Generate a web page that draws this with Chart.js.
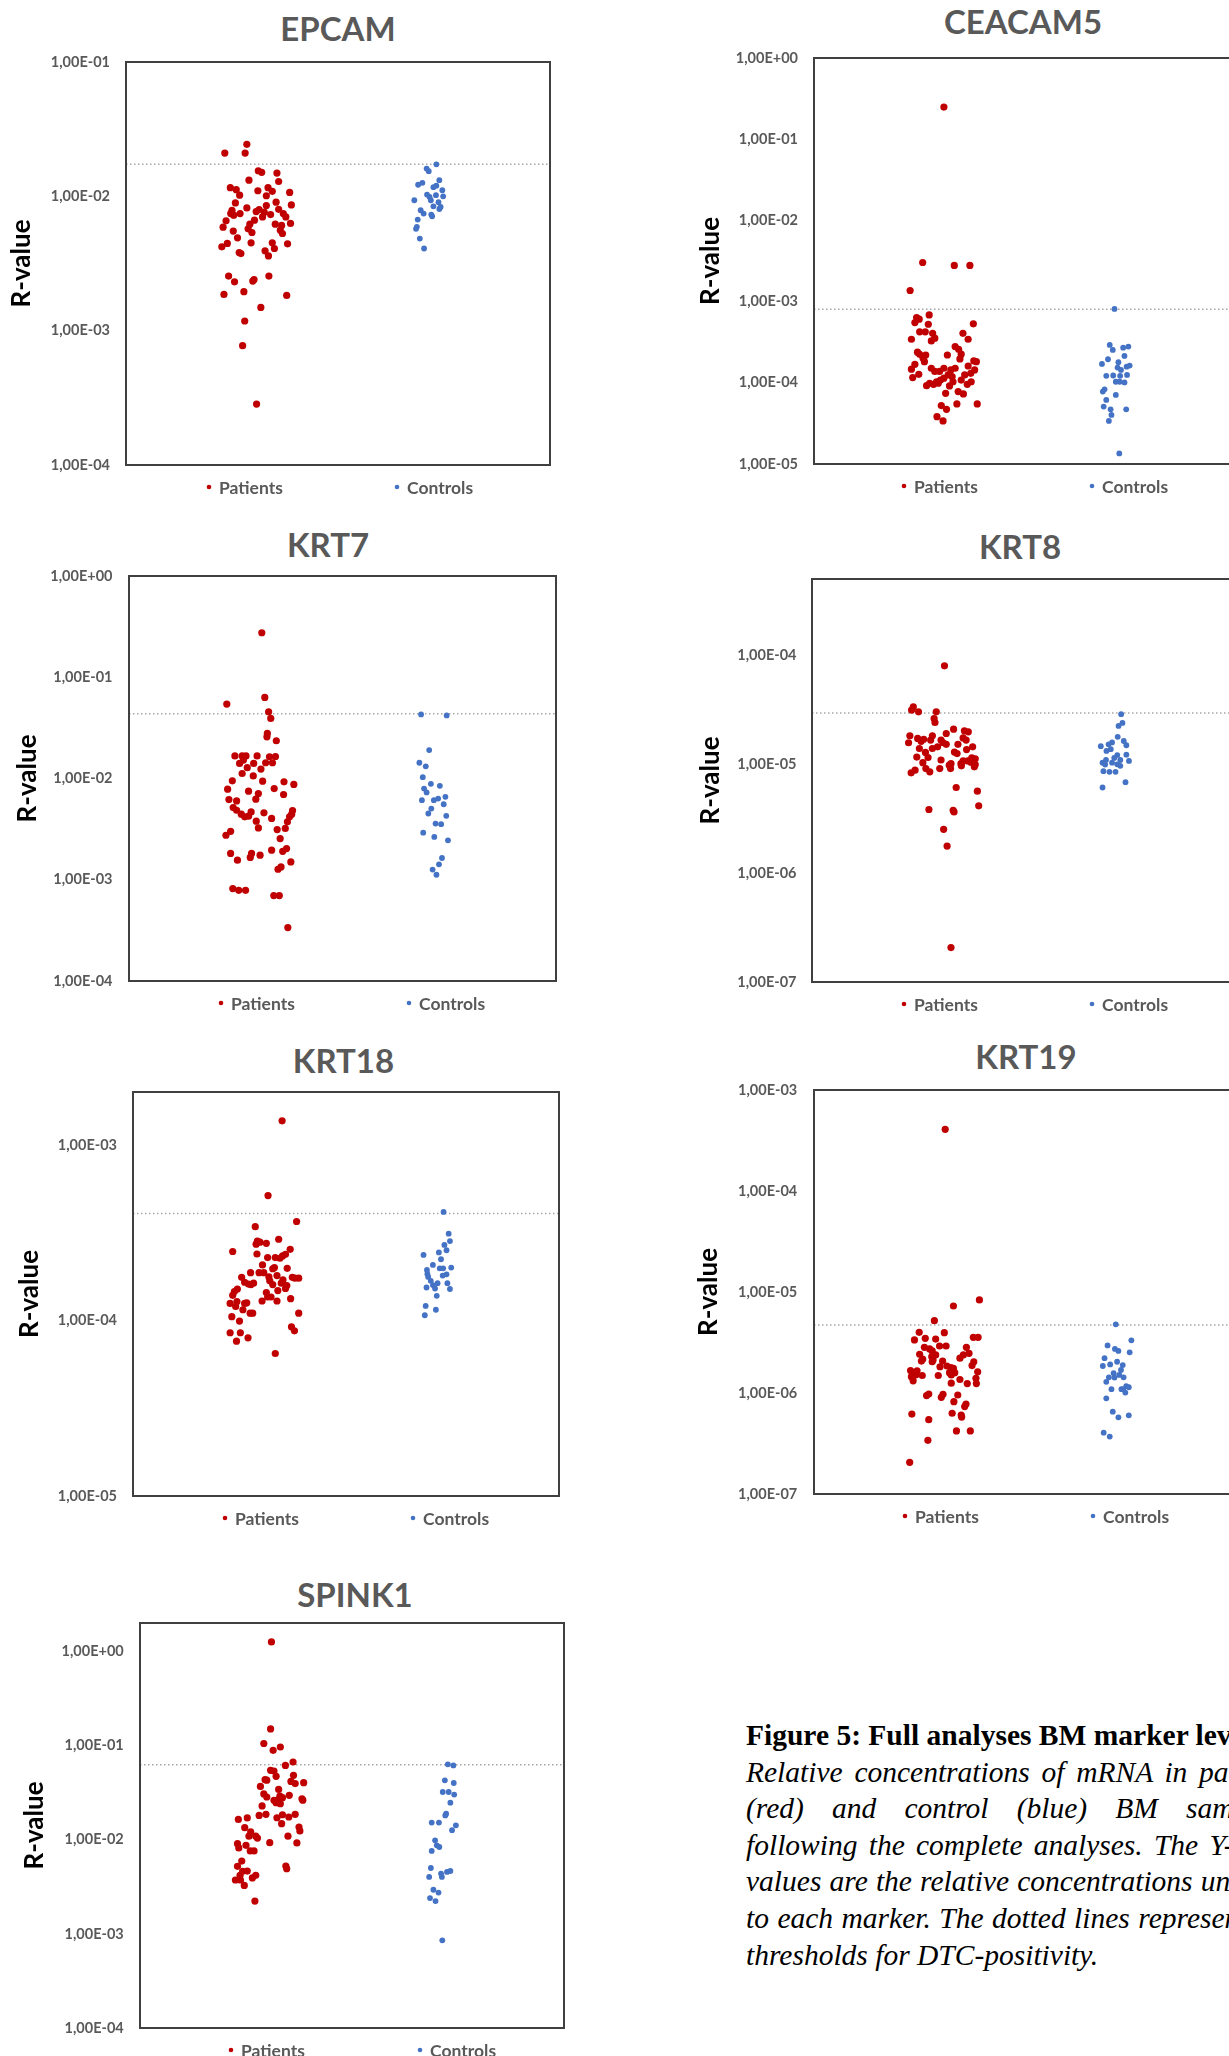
<!DOCTYPE html>
<html>
<head>
<meta charset="utf-8">
<title>Figure 5: Full analyses BM marker levels</title>
<script src="https://cdn.jsdelivr.net/npm/chart.js@4.4.0/dist/chart.umd.min.js"></script>
<style>
  html, body { margin: 0; padding: 0; background: #fff; overflow: hidden; }
  body { position: relative; width: 1229px; height: 2056px; }
  canvas.panel { position: absolute; }
  .ptitle { position: absolute; width: 400px; text-align: center; font: bold 33px/40px Lato, sans-serif; color: #595959; }
  .caption { position: absolute; left: 746px; top: 1717px; width: 535px; font-family: "Liberation Serif", "Times New Roman", serif; font-size: 29.5px; line-height: 36.6px; color: #000; }
  .caption div { white-space: nowrap; }
  .caption .head { font-weight: bold; }
  .caption .j { font-style: italic; text-align: justify; text-align-last: justify; white-space: normal; }
  .caption .wide { width: 546px; }
  .caption .last { font-style: italic; }
</style>
</head>
<body>

<div class="caption">
  <div class="head">Figure 5: Full analyses BM marker levels</div>
  <div class="j">Relative concentrations of mRNA in patient</div>
  <div class="j">(red) and control (blue) BM samples</div>
  <div class="j">following the complete analyses. The Y-axis</div>
  <div class="j">values are the relative concentrations unique</div>
  <div class="j wide">to each marker. The dotted lines represent the</div>
  <div class="last">thresholds for DTC-positivity.</div>
</div>

<script>
// values: [jitter position, R-value]
// x: patients around 3, controls around 7 (0..10 across the plot)
const epcamPatients = [[2.85,2.44e-2],[2.33,2.10e-2],[2.81,2.10e-2],[3.12,1.55e-2],[3.20,1.51e-2],[3.56,1.49e-2],[2.90,1.32e-2],[3.60,1.29e-2],[2.46,1.16e-2],[2.60,1.12e-2],[3.11,1.10e-2],[3.35,1.16e-2],[3.45,1.09e-2],[2.68,1.02e-2],[3.31,1.01e-2],[3.86,1.07e-2],[2.58,8.93e-3],[3.54,9.04e-3],[3.90,8.63e-3],[3.31,8.53e-3],[2.85,8.20e-3],[2.50,7.88e-3],[2.47,7.44e-3],[2.54,7.24e-3],[2.69,7.44e-3],[3.14,7.97e-3],[3.07,7.70e-3],[3.26,7.62e-3],[3.22,7.03e-3],[3.41,7.31e-3],[3.60,8.01e-3],[3.71,7.44e-3],[3.77,7.03e-3],[2.36,6.57e-3],[3.03,6.64e-3],[2.92,6.21e-3],[3.52,6.21e-3],[3.67,6.07e-3],[2.29,5.89e-3],[2.88,5.73e-3],[2.97,5.38e-3],[2.53,5.51e-3],[3.64,5.60e-3],[3.88,6.28e-3],[3.69,5.29e-3],[2.63,4.91e-3],[2.39,4.46e-3],[2.26,4.21e-3],[2.95,4.51e-3],[3.45,4.51e-3],[3.50,4.09e-3],[3.81,4.43e-3],[2.67,3.82e-3],[2.71,3.75e-3],[3.28,3.93e-3],[3.36,3.60e-3],[2.42,2.55e-3],[2.56,2.31e-3],[3.02,2.40e-3],[2.99,2.34e-3],[3.37,2.55e-3],[2.31,1.86e-3],[2.78,1.95e-3],[3.79,1.83e-3],[3.18,1.49e-3],[2.80,1.18e-3],[2.75,7.73e-4],[3.08,2.84e-4]];
const epcamControls = [[7.32,1.73e-2],[7.09,1.61e-2],[7.14,1.54e-2],[7.39,1.32e-2],[6.99,1.26e-2],[6.89,1.22e-2],[7.32,1.20e-2],[7.25,1.17e-2],[7.46,1.11e-2],[7.10,1.03e-2],[7.31,1.02e-2],[7.16,9.90e-3],[7.48,1.00e-2],[6.80,9.35e-3],[7.19,9.35e-3],[7.37,9.04e-3],[7.25,8.43e-3],[7.42,8.34e-3],[7.39,8.05e-3],[6.95,7.88e-3],[7.02,7.44e-3],[7.20,7.31e-3],[7.22,7.11e-3],[6.88,6.71e-3],[6.86,5.93e-3],[6.84,5.73e-3],[6.93,4.85e-3],[7.03,4.09e-3]];
const epcamTicks = ['1,00E-04','1,00E-03','1,00E-02','1,00E-01'];

const ceacam5Patients = [[3.00,2.49e-1],[2.51,3.03e-3],[3.24,2.79e-3],[3.60,2.79e-3],[2.22,1.37e-3],[2.66,6.86e-4],[2.37,6.37e-4],[2.43,6.07e-4],[2.33,5.52e-4],[2.64,5.26e-4],[3.68,5.32e-4],[2.44,4.24e-4],[2.57,4.24e-4],[2.74,4.07e-4],[3.44,4.07e-4],[2.79,3.54e-4],[2.71,3.28e-4],[2.25,3.44e-4],[3.56,3.44e-4],[3.26,2.79e-4],[3.34,2.59e-4],[2.39,2.38e-4],[3.08,2.20e-4],[2.44,2.24e-4],[2.58,2.20e-4],[2.52,2.00e-4],[3.40,2.25e-4],[3.37,1.97e-4],[2.55,1.82e-4],[3.69,1.86e-4],[3.75,1.82e-4],[2.33,1.69e-4],[3.56,1.61e-4],[2.25,1.47e-4],[2.71,1.51e-4],[3.00,1.51e-4],[3.26,1.51e-4],[3.16,1.44e-4],[2.79,1.38e-4],[2.90,1.38e-4],[3.71,1.44e-4],[2.42,1.27e-4],[3.10,1.25e-4],[3.48,1.25e-4],[3.19,1.19e-4],[3.62,1.31e-4],[2.28,1.16e-4],[3.00,1.14e-4],[3.40,1.08e-4],[2.92,1.08e-4],[2.83,1.03e-4],[3.21,1.03e-4],[2.67,9.87e-5],[3.63,1.03e-4],[2.60,9.23e-5],[3.13,9.14e-5],[3.54,9.59e-5],[2.76,9.59e-5],[2.87,9.87e-5],[3.33,7.80e-5],[3.04,7.43e-5],[3.45,7.30e-5],[2.94,5.24e-5],[3.30,5.50e-5],[3.77,5.50e-5],[3.06,4.72e-5],[2.84,3.83e-5],[2.98,3.39e-5]];
const ceacam5Controls = [[6.94,8.13e-4],[6.83,2.93e-4],[7.26,2.79e-4],[7.14,2.71e-4],[6.90,2.54e-4],[7.17,2.14e-4],[6.79,1.95e-4],[7.03,1.79e-4],[6.65,1.71e-4],[7.29,1.63e-4],[7.22,1.58e-4],[7.01,1.54e-4],[7.09,1.44e-4],[6.75,1.22e-4],[6.91,1.23e-4],[7.07,1.22e-4],[7.23,1.25e-4],[6.97,1.03e-4],[7.06,1.03e-4],[7.17,1.01e-4],[6.71,8.32e-5],[6.67,7.80e-5],[6.97,7.09e-5],[6.75,6.15e-5],[6.69,5.09e-5],[6.85,4.72e-5],[7.21,4.72e-5],[6.87,4.02e-5],[6.81,3.39e-5],[7.05,1.35e-5]];
const ceacam5Ticks = ['1,00E-05','1,00E-04','1,00E-03','1,00E-02','1,00E-01','1,00E+00'];

const krt7Patients = [[3.11,2.75e-1],[3.18,6.32e-2],[2.29,5.43e-2],[3.27,4.56e-2],[3.32,3.92e-2],[3.24,2.79e-2],[3.23,2.58e-2],[3.45,2.36e-2],[2.48,1.67e-2],[2.65,1.67e-2],[2.74,1.67e-2],[3.00,1.67e-2],[3.29,1.64e-2],[3.43,1.65e-2],[2.68,1.52e-2],[2.59,1.41e-2],[2.92,1.41e-2],[3.20,1.43e-2],[3.36,1.43e-2],[2.77,1.28e-2],[3.09,1.24e-2],[2.65,1.12e-2],[2.91,1.06e-2],[2.42,9.48e-3],[3.13,9.42e-3],[3.63,9.27e-3],[3.86,8.73e-3],[2.31,7.85e-3],[3.40,7.96e-3],[2.80,7.50e-3],[3.03,7.11e-3],[3.62,6.95e-3],[2.34,6.19e-3],[2.52,6.01e-3],[2.97,6.25e-3],[2.44,5.16e-3],[2.52,4.86e-3],[2.86,4.68e-3],[3.16,4.58e-3],[3.83,4.83e-3],[2.63,4.44e-3],[2.80,4.25e-3],[2.71,4.18e-3],[3.81,4.44e-3],[3.76,4.18e-3],[3.34,4.03e-3],[2.98,3.79e-3],[3.71,3.73e-3],[3.03,3.25e-3],[3.66,3.21e-3],[3.47,3.13e-3],[2.38,3.01e-3],[2.27,2.75e-3],[3.54,2.55e-3],[3.34,1.96e-3],[3.69,2.03e-3],[3.60,1.91e-3],[2.38,1.82e-3],[2.87,1.82e-3],[2.84,1.66e-3],[3.07,1.75e-3],[2.54,1.56e-3],[3.79,1.50e-3],[3.56,1.34e-3],[3.49,1.27e-3],[2.43,8.18e-4],[2.57,7.87e-4],[2.73,7.87e-4],[3.39,6.97e-4],[3.52,6.97e-4],[3.72,3.37e-4]];
const krt7Controls = [[6.84,4.29e-2],[7.44,4.20e-2],[7.03,1.91e-2],[6.80,1.43e-2],[6.95,1.32e-2],[6.88,1.03e-2],[7.07,8.85e-3],[7.28,8.47e-3],[6.91,7.96e-3],[6.97,7.28e-3],[7.41,6.59e-3],[6.86,6.11e-3],[7.14,6.11e-3],[7.24,6.34e-3],[7.37,5.57e-3],[7.08,5.05e-3],[7.01,4.51e-3],[7.43,4.28e-3],[7.18,3.59e-3],[7.31,3.54e-3],[6.89,2.92e-3],[7.15,2.65e-3],[7.47,2.45e-3],[7.33,1.64e-3],[7.26,1.42e-3],[7.11,1.26e-3],[7.20,1.12e-3]];
const krt7Ticks = ['1,00E-04','1,00E-03','1,00E-02','1,00E-01','1,00E+00'];

const krt8Patients = [[3.06,7.98e-5],[2.34,3.36e-5],[2.30,3.13e-5],[2.46,3.02e-5],[2.87,3.02e-5],[2.82,2.62e-5],[2.84,2.41e-5],[3.27,2.09e-5],[3.52,2.02e-5],[3.61,1.98e-5],[3.10,1.91e-5],[2.26,1.82e-5],[2.78,1.82e-5],[2.44,1.72e-5],[2.58,1.69e-5],[2.52,1.62e-5],[2.74,1.66e-5],[3.49,1.74e-5],[2.98,1.66e-5],[2.23,1.57e-5],[3.03,1.57e-5],[3.10,1.52e-5],[3.37,1.52e-5],[3.56,1.66e-5],[2.48,1.39e-5],[2.90,1.44e-5],[2.78,1.39e-5],[3.71,1.44e-5],[3.57,1.36e-5],[2.62,1.28e-5],[3.29,1.29e-5],[3.35,1.25e-5],[2.42,1.16e-5],[2.68,1.15e-5],[3.69,1.14e-5],[3.77,1.12e-5],[2.98,1.09e-5],[3.49,1.07e-5],[3.60,1.07e-5],[2.56,1.03e-5],[3.21,1.01e-5],[3.44,1.01e-5],[3.67,1.04e-5],[3.77,9.90e-6],[3.17,9.77e-6],[3.45,9.64e-6],[3.75,9.44e-6],[2.63,9.10e-6],[2.95,9.10e-6],[3.20,9.10e-6],[2.38,8.79e-6],[2.72,8.49e-6],[2.29,8.31e-6],[3.33,6.10e-6],[3.82,5.64e-6],[3.85,4.14e-6],[2.70,3.83e-6],[3.26,3.77e-6],[3.28,3.64e-6],[3.04,2.52e-6],[3.12,1.77e-6],[3.21,2.07e-7]];
const krt8Controls = [[7.14,2.87e-5],[7.17,2.39e-5],[7.08,2.24e-5],[7.06,1.78e-5],[7.20,1.63e-5],[6.93,1.58e-5],[6.85,1.52e-5],[6.67,1.46e-5],[7.26,1.49e-5],[6.90,1.37e-5],[6.80,1.32e-5],[7.26,1.22e-5],[7.05,1.21e-5],[6.98,1.14e-5],[7.12,1.09e-5],[6.79,1.09e-5],[7.32,1.07e-5],[6.71,1.03e-5],[6.93,1.03e-5],[6.77,9.90e-6],[7.05,9.95e-6],[7.12,9.64e-6],[6.73,8.61e-6],[6.87,8.49e-6],[7.01,8.49e-6],[7.24,6.82e-6],[6.71,6.10e-6]];
const krt8Ticks = ['1,00E-07','1,00E-06','1,00E-05','1,00E-04'];

const krt18Patients = [[3.50,1.37e-3],[3.17,5.14e-4],[3.84,3.66e-4],[2.87,3.42e-4],[3.42,2.90e-4],[2.92,2.83e-4],[2.98,2.79e-4],[3.13,2.75e-4],[2.89,2.72e-4],[3.69,2.54e-4],[2.34,2.47e-4],[2.91,2.39e-4],[3.58,2.38e-4],[3.51,2.33e-4],[3.16,2.28e-4],[3.34,2.28e-4],[3.45,2.26e-4],[3.04,2.07e-4],[3.32,2.00e-4],[3.62,1.98e-4],[3.28,1.97e-4],[2.76,1.87e-4],[2.96,1.87e-4],[3.07,1.87e-4],[2.55,1.76e-4],[3.38,1.80e-4],[3.19,1.77e-4],[3.74,1.76e-4],[3.89,1.74e-4],[3.80,1.74e-4],[3.21,1.68e-4],[3.52,1.70e-4],[2.62,1.65e-4],[2.71,1.61e-4],[2.83,1.63e-4],[2.77,1.60e-4],[3.28,1.60e-4],[3.48,1.63e-4],[3.61,1.58e-4],[3.58,1.52e-4],[2.45,1.51e-4],[2.38,1.46e-4],[2.34,1.39e-4],[3.13,1.44e-4],[3.24,1.36e-4],[3.16,1.36e-4],[3.40,1.48e-4],[3.70,1.33e-4],[3.03,1.29e-4],[3.38,1.29e-4],[2.44,1.28e-4],[2.28,1.25e-4],[2.62,1.25e-4],[2.67,1.26e-4],[2.41,1.20e-4],[2.58,1.15e-4],[2.75,1.10e-4],[2.81,1.10e-4],[3.89,1.10e-4],[2.32,1.05e-4],[2.50,9.91e-5],[3.72,9.20e-5],[3.79,8.73e-5],[2.28,8.51e-5],[2.52,8.51e-5],[2.70,7.96e-5],[2.43,7.62e-5],[3.34,6.48e-5]];
const krt18Controls = [[7.29,4.15e-4],[7.41,3.12e-4],[7.44,2.83e-4],[7.31,2.69e-4],[7.36,2.51e-4],[7.18,2.44e-4],[6.82,2.36e-4],[7.23,2.23e-4],[7.04,2.07e-4],[7.47,2.00e-4],[7.20,1.98e-4],[7.28,1.98e-4],[6.90,1.94e-4],[6.91,1.84e-4],[7.36,1.83e-4],[7.27,1.80e-4],[6.93,1.77e-4],[6.99,1.68e-4],[7.38,1.63e-4],[7.15,1.63e-4],[7.04,1.59e-4],[6.89,1.54e-4],[7.09,1.52e-4],[7.44,1.51e-4],[7.13,1.38e-4],[6.87,1.21e-4],[7.11,1.15e-4],[6.85,1.07e-4]];
const krt18Ticks = ['1,00E-05','1,00E-04','1,00E-03'];

const krt19Patients = [[3.03,4.08e-4],[3.82,8.34e-6],[3.22,7.27e-6],[2.78,5.20e-6],[2.43,3.99e-6],[3.01,3.96e-6],[3.68,3.56e-6],[3.79,3.56e-6],[2.32,3.35e-6],[2.57,3.48e-6],[2.81,3.42e-6],[2.90,2.92e-6],[3.05,2.92e-6],[2.55,2.83e-6],[3.52,2.83e-6],[2.67,2.73e-6],[2.73,2.61e-6],[3.58,2.47e-6],[2.44,2.42e-6],[2.81,2.38e-6],[3.45,2.38e-6],[2.72,2.29e-6],[3.37,2.21e-6],[2.51,2.16e-6],[2.75,2.12e-6],[2.97,2.07e-6],[3.69,2.04e-6],[2.48,2.07e-6],[2.73,2.04e-6],[3.07,1.85e-6],[3.65,1.87e-6],[2.91,1.82e-6],[3.16,1.78e-6],[3.22,1.75e-6],[2.23,1.67e-6],[2.38,1.66e-6],[3.78,1.62e-6],[3.13,1.59e-6],[3.25,1.59e-6],[2.29,1.53e-6],[2.35,1.51e-6],[3.17,1.51e-6],[2.50,1.49e-6],[2.87,1.49e-6],[2.25,1.45e-6],[3.74,1.40e-6],[3.37,1.36e-6],[2.29,1.32e-6],[3.17,1.25e-6],[3.54,1.24e-6],[3.75,1.24e-6],[2.65,9.77e-7],[2.60,9.42e-7],[2.98,9.70e-7],[3.32,9.55e-7],[2.94,9.06e-7],[3.23,8.20e-7],[3.51,7.78e-7],[3.48,7.33e-7],[3.19,6.30e-7],[3.40,6.05e-7],[3.41,5.78e-7],[2.26,6.19e-7],[2.65,5.44e-7],[3.29,4.21e-7],[3.61,4.21e-7],[2.63,3.40e-7],[2.21,2.06e-7]];
const krt19Controls = [[6.97,4.79e-6],[7.33,3.32e-6],[6.78,2.96e-6],[6.95,2.73e-6],[7.03,2.61e-6],[7.29,2.53e-6],[6.71,2.21e-6],[7.00,2.04e-6],[6.84,1.92e-6],[6.67,1.85e-6],[7.13,1.89e-6],[7.09,1.69e-6],[6.92,1.57e-6],[7.05,1.51e-6],[6.81,1.43e-6],[6.94,1.42e-6],[7.15,1.43e-6],[6.75,1.29e-6],[7.21,1.17e-6],[7.27,1.14e-6],[6.87,1.09e-6],[7.10,1.09e-6],[7.14,1.09e-6],[7.19,1.01e-6],[6.75,8.85e-7],[6.90,6.53e-7],[7.27,6.01e-7],[7.03,5.74e-7],[6.69,4.05e-7],[6.83,3.70e-7]];
const krt19Ticks = ['1,00E-07','1,00E-06','1,00E-05','1,00E-04','1,00E-03'];

const spink1Patients = [[3.10,1.26],[3.08,1.50e-1],[2.92,1.05e-1],[3.31,9.64e-2],[3.14,8.89e-2],[3.61,6.68e-2],[3.43,6.15e-2],[3.08,5.45e-2],[3.16,5.36e-2],[3.62,4.82e-2],[3.21,4.71e-2],[2.95,4.34e-2],[2.99,4.28e-2],[3.56,4.16e-2],[3.86,4.03e-2],[3.66,3.94e-2],[2.84,3.68e-2],[3.27,3.42e-2],[2.92,3.06e-2],[3.52,2.96e-2],[2.99,2.84e-2],[3.30,2.91e-2],[3.36,2.79e-2],[3.82,2.72e-2],[3.84,2.63e-2],[3.16,2.62e-2],[3.25,2.65e-2],[3.21,2.47e-2],[3.31,2.41e-2],[2.88,2.28e-2],[2.81,1.81e-2],[2.97,1.86e-2],[3.36,1.84e-2],[3.66,1.86e-2],[3.51,1.74e-2],[3.23,1.71e-2],[2.32,1.64e-2],[2.53,1.70e-2],[3.34,1.48e-2],[2.47,1.34e-2],[3.75,1.36e-2],[3.77,1.24e-2],[2.61,1.21e-2],[2.73,1.09e-2],[2.57,1.09e-2],[2.77,1.04e-2],[3.49,1.09e-2],[2.30,9.07e-3],[3.06,9.30e-3],[3.70,9.23e-3],[2.50,8.71e-3],[2.33,8.17e-3],[2.60,7.59e-3],[2.69,7.59e-3],[2.40,5.93e-3],[2.30,5.21e-3],[3.44,5.25e-3],[3.46,4.92e-3],[2.42,4.61e-3],[2.53,4.64e-3],[2.36,4.18e-3],[2.73,4.18e-3],[2.65,3.92e-3],[2.25,3.73e-3],[2.37,3.73e-3],[2.46,3.27e-3],[2.71,2.23e-3]];
const spink1Controls = [[7.26,6.31e-2],[7.39,6.15e-2],[7.19,4.27e-2],[7.40,4.00e-2],[7.14,3.21e-2],[7.28,3.21e-2],[7.41,3.01e-2],[7.32,2.47e-2],[7.22,1.89e-2],[7.20,1.81e-2],[6.88,1.52e-2],[7.05,1.52e-2],[7.45,1.42e-2],[7.36,1.26e-2],[6.96,9.84e-3],[7.00,8.71e-3],[7.06,8.36e-3],[6.88,7.59e-3],[6.86,5.00e-3],[7.32,4.65e-3],[7.24,4.54e-3],[7.10,4.36e-3],[6.82,4.02e-3],[7.12,4.02e-3],[6.92,2.94e-3],[7.04,2.74e-3],[6.84,2.40e-3],[6.97,2.23e-3],[7.13,8.53e-4]];
const spink1Ticks = ['1,00E-04','1,00E-03','1,00E-02','1,00E-01','1,00E+00'];

// DTC-positivity thresholds (dotted lines)
const thresholds = { EPCAM: 1.73e-2, CEACAM5: 8.05e-4, KRT7: 4.36e-2, KRT8: 2.95e-5, KRT18: 4.07e-4, KRT19: 4.71e-6, SPINK1: 6.26e-2 };
// upper end of each y axis
const axisMax = { EPCAM: 1e-1, CEACAM5: 1, KRT7: 1, KRT8: 5e-4, KRT18: 2e-3, KRT19: 1e-3, SPINK1: 2 };

const RED = '#c00000';
const BLUE = '#4472c4';
const GRAY = '#595959';
const Y_AXIS_W = 125;
const TOP_PAD = 28;

// page layout: plot box [left, top, right, bottom], title centre, R-value centre x,
// gap between tick labels and plot, legend bullet offsets from the plot's left edge
const panels = [
  { name: 'EPCAM',   patients: epcamPatients,   controls: epcamControls,   ticks: epcamTicks,   box: [126, 62, 550, 465],     title: [338, 28.7],   rv: 22,  gap: 16,   legend: [83, 271] },
  { name: 'CEACAM5', patients: ceacam5Patients, controls: ceacam5Controls, ticks: ceacam5Ticks, box: [814, 58, 1247, 464],    title: [1023, 21.7],  rv: 711, gap: 16,   legend: [90, 278] },
  { name: 'KRT7',    patients: krt7Patients,    controls: krt7Controls,    ticks: krt7Ticks,    box: [129, 576, 556, 981],    title: [328, 545],    rv: 28,  gap: 16.5, legend: [92, 280] },
  { name: 'KRT8',    patients: krt8Patients,    controls: krt8Controls,    ticks: krt8Ticks,    box: [812, 579, 1245, 982],   title: [1020, 546.7], rv: 711, gap: 15.5, legend: [92, 280] },
  { name: 'KRT18',   patients: krt18Patients,   controls: krt18Controls,   ticks: krt18Ticks,   box: [133, 1092, 559, 1496],  title: [343.5, 1060.8], rv: 29.5, gap: 16, legend: [92, 280] },
  { name: 'KRT19',   patients: krt19Patients,   controls: krt19Controls,   ticks: krt19Ticks,   box: [814, 1090, 1247, 1494], title: [1026, 1056.7], rv: 709, gap: 16.8, legend: [91, 279] },
  { name: 'SPINK1',  patients: spink1Patients,  controls: spink1Controls,  ticks: spink1Ticks,  box: [140, 1623, 564, 2028],  title: [355, 1595],   rv: 35,  gap: 16.3, legend: [91, 280] }
];

// frame around the plot area
const plotBox = {
  id: 'plotBox',
  afterDatasetsDraw(chart) {
    const { ctx, chartArea: a } = chart;
    ctx.save();
    ctx.strokeStyle = '#404040';
    ctx.lineWidth = 2;
    ctx.strokeRect(a.left, a.top, a.right - a.left, a.bottom - a.top);
    ctx.restore();
  }
};

// "• Patients   • Controls" under the plot
const groupLegend = {
  id: 'groupLegend',
  afterDraw(chart, args, opts) {
    const { ctx, chartArea: a } = chart;
    ctx.save();
    ctx.font = 'bold 17.5px Lato';
    ctx.textBaseline = 'middle';
    chart.data.datasets.slice(0, 2).forEach((ds, i) => {
      const x = a.left + opts.at[i];
      const y = a.bottom + 22;
      ctx.fillStyle = ds.backgroundColor;
      ctx.beginPath();
      ctx.arc(x, y, 2.3, 0, Math.PI * 2);
      ctx.fill();
      ctx.fillStyle = GRAY;
      ctx.fillText(ds.label, x + 10, y + 1);
    });
    ctx.restore();
  }
};

const toPoints = arr => arr.map(p => ({ x: p[0], y: p[1] }));

function makePanel(p) {
  const [L, T, R, B] = p.box;
  const cl = L - Y_AXIS_W;
  const ct = T - TOP_PAD;

  const title = document.createElement('div');
  title.className = 'ptitle';
  title.textContent = p.name;
  title.style.left = (p.title[0] - 200) + 'px';
  title.style.top = (p.title[1] - 21) + 'px';
  document.body.appendChild(title);

  const canvas = document.createElement('canvas');
  canvas.className = 'panel';
  canvas.width = R - cl + 10;
  canvas.height = B - ct + 40;
  canvas.style.left = cl + 'px';
  canvas.style.top = ct + 'px';
  document.body.appendChild(canvas);

  const tickValues = p.ticks.map(t => parseFloat(t.replace(',', '.')));
  const thr = thresholds[p.name];

  new Chart(canvas, {
    type: 'scatter',
    data: {
      datasets: [
        { label: 'Patients', data: toPoints(p.patients), backgroundColor: RED, pointRadius: 3.6, borderWidth: 0, order: 1 },
        { label: 'Controls', data: toPoints(p.controls), backgroundColor: BLUE, pointRadius: 2.9, borderWidth: 0, order: 2 },
        { type: 'line', label: 'Threshold', data: [{ x: 0, y: thr }, { x: 10, y: thr }],
          borderColor: '#a6a6a6', borderWidth: 1.5, borderDash: [1.5, 2.5], pointRadius: 0, fill: false, order: 3 }
      ]
    },
    options: {
      responsive: false,
      animation: false,
      layout: { padding: { left: 0, top: TOP_PAD, right: 10, bottom: 40 } },
      scales: {
        x: { type: 'linear', min: 0, max: 10, display: false },
        y: {
          type: 'logarithmic',
          min: tickValues[0],
          max: axisMax[p.name],
          afterBuildTicks: s => { s.ticks = tickValues.map(v => ({ value: v })); },
          afterFit: s => { s.width = Y_AXIS_W; },
          grid: { display: false, drawTicks: false },
          border: { display: false },
          ticks: {
            autoSkip: false,
            padding: p.gap,
            color: GRAY,
            font: { family: 'Lato', weight: 'bold', size: 14.5 },
            callback: (v, i) => p.ticks[i]
          },
          title: {
            display: true,
            text: 'R-value',
            color: '#000',
            font: { family: 'Lato', weight: 'bold', size: 26 },
            padding: { top: p.rv - cl - 15.6, bottom: 0 }
          }
        }
      },
      plugins: {
        legend: { display: false },
        tooltip: { enabled: false },
        groupLegend: { at: p.legend }
      }
    },
    plugins: [plotBox, groupLegend]
  });
}

panels.forEach(makePanel);
</script>
</body>
</html>
